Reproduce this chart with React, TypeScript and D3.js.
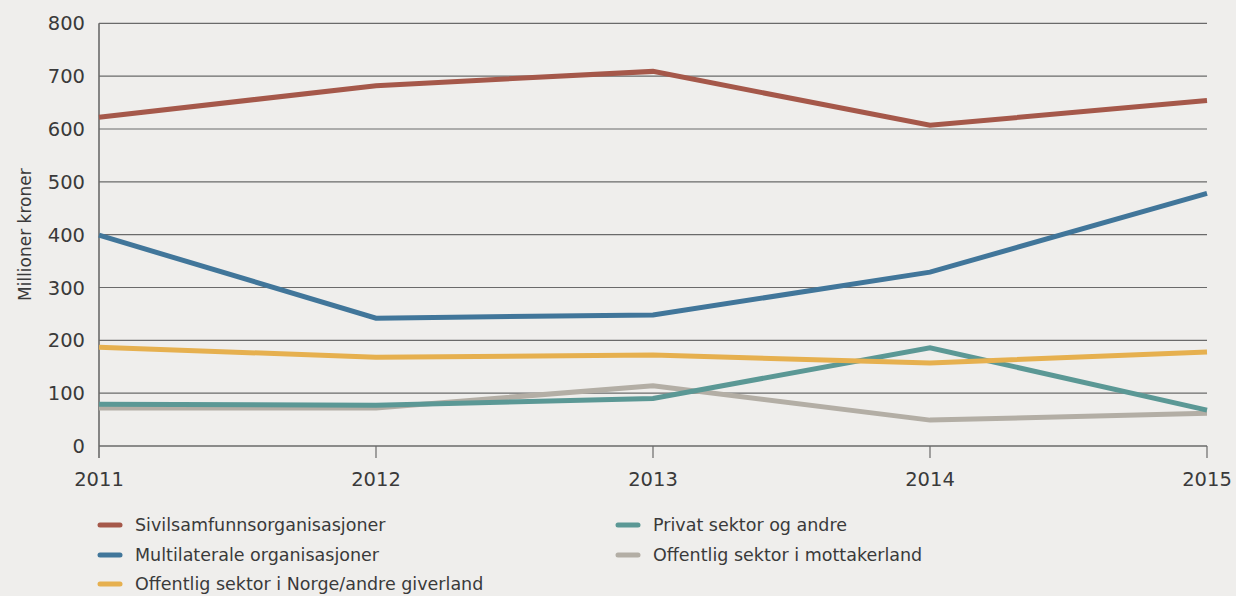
import { useEffect, useRef } from 'react';
import * as d3 from 'd3';

const years = [2011, 2012, 2013, 2014, 2015];
const yTicks = [0, 100, 200, 300, 400, 500, 600, 700, 800];

const sivilsamfunn = [622, 682, 709, 607, 654];
const multilaterale = [399, 242, 248, 329, 478];
const offentligNorge = [187, 168, 172, 157, 178];
const privatSektor = [79, 77, 90, 186, 68];
const offentligMottaker = [72, 72, 114, 49, 62];

const seriesNames = [
  'Sivilsamfunnsorganisasjoner',
  'Multilaterale organisasjoner',
  'Offentlig sektor i Norge/andre giverland',
  'Privat sektor og andre',
  'Offentlig sektor i mottakerland',
];
const seriesColors = ['#a5584a', '#41769a', '#e6b04f', '#5b9895', '#b3aea5'];

interface Series {
  name: string;
  color: string;
  values: number[];
}

export default function App() {
  const svgRef = useRef<SVGSVGElement>(null);
  const width = 1236;
  const height = 596;

  useEffect(() => {
    if (!svgRef.current) return;
    const svg = d3.select(svgRef.current);
    svg.selectAll('*').remove();

    const font = '"DejaVu Sans", sans-serif';
    const textColor = '#3a3a3a';
    const gridColor = '#6a6a6a';

    svg.append('rect').attr('width', width).attr('height', height).attr('fill', '#efeeec');

    const x = d3.scaleLinear().domain([2011, 2015]).range([99, 1207]);
    const y = d3.scaleLinear().domain([0, 800]).range([446, 23.3]);

    const values = [sivilsamfunn, multilaterale, offentligNorge, privatSektor, offentligMottaker];
    const series: Series[] = seriesNames.map((name, i) => ({ name, color: seriesColors[i], values: values[i] }));

    // gridlines
    svg.append('g')
      .selectAll('line')
      .data(yTicks)
      .join('line')
      .attr('x1', x(2011))
      .attr('x2', x(2015))
      .attr('y1', d => y(d))
      .attr('y2', d => y(d))
      .attr('stroke', gridColor)
      .attr('stroke-width', d => (d === 0 ? 1.6 : 1.2));

    // y axis line and x ticks
    svg.append('line')
      .attr('x1', x(2011)).attr('x2', x(2011))
      .attr('y1', y(800)).attr('y2', y(0) + 12)
      .attr('stroke', gridColor).attr('stroke-width', 1.6);

    svg.append('g')
      .selectAll('line')
      .data(years.slice(1))
      .join('line')
      .attr('x1', d => x(d)).attr('x2', d => x(d))
      .attr('y1', y(0)).attr('y2', y(0) + 12)
      .attr('stroke', gridColor).attr('stroke-width', 1.2);

    // y tick labels
    svg.append('g')
      .selectAll('text')
      .data(yTicks)
      .join('text')
      .attr('x', 85)
      .attr('y', d => y(d))
      .attr('dy', '0.36em')
      .attr('text-anchor', 'end')
      .style('font-family', font)
      .style('font-size', '19.5px')
      .style('fill', textColor)
      .text(d => d);

    // x tick labels
    svg.append('g')
      .selectAll('text')
      .data(years)
      .join('text')
      .attr('x', d => x(d))
      .attr('y', 486)
      .attr('text-anchor', 'middle')
      .style('font-family', font)
      .style('font-size', '19.5px')
      .style('fill', textColor)
      .text(d => d);

    // y axis title
    svg.append('text')
      .attr('transform', `translate(31,${y(400)}) rotate(-90)`)
      .attr('text-anchor', 'middle')
      .style('font-family', font)
      .style('font-size', '17px')
      .style('fill', textColor)
      .text('Millioner kroner');

    // lines (drawn in reverse so the first series sits on top)
    const line = d3.line<number>()
      .x((_, i) => x(years[i]))
      .y(d => y(d));

    svg.append('g')
      .selectAll('path')
      .data(series.slice().reverse())
      .join('path')
      .attr('d', d => line(d.values))
      .attr('fill', 'none')
      .attr('stroke', d => d.color)
      .attr('stroke-width', 5)
      .attr('stroke-linejoin', 'miter')
      .attr('stroke-linecap', 'butt');

    // legend
    const legendPos = [
      { x: 98, y: 525 },
      { x: 98, y: 555 },
      { x: 98, y: 584 },
      { x: 616, y: 525 },
      { x: 616, y: 555 },
    ];
    const legend = svg.append('g')
      .selectAll('g')
      .data(series)
      .join('g')
      .attr('transform', (_, i) => `translate(${legendPos[i].x},${legendPos[i].y})`);

    legend.append('line')
      .attr('x1', 2).attr('x2', 22)
      .attr('y1', 0).attr('y2', 0)
      .attr('stroke', d => d.color)
      .attr('stroke-width', 5)
      .attr('stroke-linecap', 'round');

    legend.append('text')
      .attr('x', 37)
      .attr('y', 0)
      .attr('dy', '0.36em')
      .style('font-family', font)
      .style('font-size', '17.5px')
      .style('fill', textColor)
      .text(d => d.name);
  }, []);

  return (
    <svg
      ref={svgRef}
      width={width}
      height={height}
      style={{ position: 'absolute', left: 0, top: 0, display: 'block' }}
    />
  );
}
